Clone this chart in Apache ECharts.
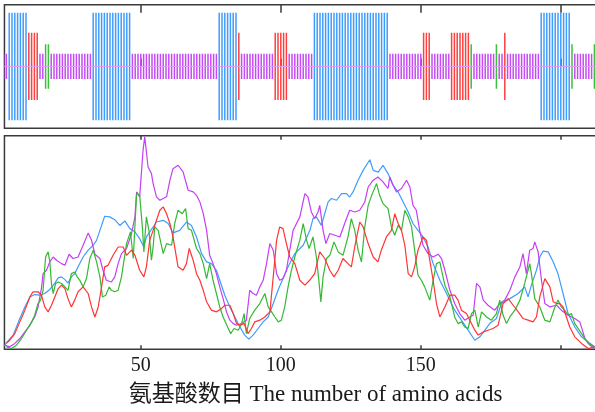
<!DOCTYPE html>
<html>
<head>
<meta charset="utf-8">
<script src="https://cdn.jsdelivr.net/npm/echarts@6/dist/echarts.min.js"></script>
<style>
html,body{margin:0;padding:0;background:#fff;}
#chart{width:595px;height:412px;}
</style>
</head>
<body>
<div id="chart"></div>
<script>
// Secondary structure per residue (H helix, E strand, T turn, C coil), residues 1..212
const structure = ("CC" + "HHHHHHH" + "EEEE" + "CC" + "TT" + "CCCCCCCCCCCCCCC" + "HHHHHHHHHHHHHH" +
  "CCCCCCCCCCCCCCCCCCCCCCCCCCCCCCC" + "HHHHHHH" + "E" + "CCCCCCCCCCCC" + "EEEEE" + "CCCCCCCCC" +
  "HHHHHHHHHHHHHHHHHHHHHHHHHHH" + "CCCCCCCCCCCC" + "EEE" + "CCCCCCC" + "EEEEEEE" + "T" + "CCCCCCCC" +
  "T" + "CC" + "E" + "CCCCCCCCCCCC" + "HHHHHHHHHHH" + "T" + "CCCCCCC" + "T").split('');
const structureClasses = ['H', 'E', 'T', 'C'];
const structureLevels = [0.87, 0.545, 0.36, 0.205];

const xTicks = [50, 100, 150, 200];
const xTickLabels = [50, 100, 150];

const blueLine = [[1.3,1.5],[1.8,2.7],[4.4,6.6],[6.8,14.4],[8.6,19.8],[10.4,24.5],[12.1,25.6],[13.9,25.3],[15.7,26.1],[17.5,28],[19.3,31],[20.5,33.4],[21.7,33.9],[22.9,32.6],[24,31],[25.2,33.9],[26.4,35.4],[27.6,38.6],[29.4,43.2],[31.2,46.4],[33,48.7],[34.2,51],[35.4,55.7],[37.1,62.3],[38.9,62],[40.7,60.7],[42.5,58],[44.3,60.1],[46.1,56.5],[47.9,55],[49.6,51.8],[51.1,47.9],[52,52.6],[55.6,59.6],[58,60.4],[59.8,58.9],[61.5,54.5],[63.9,55.7],[66.3,59.6],[68.1,58],[69.9,52.6],[71.7,44.8],[73.5,40.9],[75.2,40.1],[77,37],[78.2,32.3],[80,25.3],[81.8,19.8],[83.6,15.1],[85.4,10.4],[87.1,6.6],[88.6,4.7],[90.1,6.6],[91.9,9.7],[93.7,12.8],[95.5,15.1],[97.3,21.4],[99,27.6],[100.8,33.1],[102.6,38.6],[105,44.8],[108,48.7],[110.4,55.7],[111.5,61.2],[112.7,62],[114.5,58],[115.7,63.6],[116.9,69],[118.1,70.6],[119.9,69.8],[121.7,72.9],[123.5,72.9],[124.6,71.3],[125.8,73.7],[127.6,79.2],[129.4,83.8],[131.8,88.8],[133,83.8],[134.8,83],[136.5,86.2],[138.3,82.3],[140.1,76.8],[141.9,73.7],[143.7,69],[145.5,64.3],[147.2,58.9],[149,55.7],[150.8,52.6],[152.6,47.9],[154.4,40.1],[156.8,32.3],[159.8,24.5],[162.1,18.3],[164.5,13.6],[166.9,8.9],[169.3,4.2],[171.1,5.8],[172.9,8.9],[174.6,12],[177,14.4],[178.8,21.4],[181.8,23.7],[184.8,26.1],[187.1,29.2],[188.3,24.5],[189.5,30],[191.3,37],[192.5,43.2],[193.7,46],[195.5,45.6],[197.3,40.9],[199,35.4],[200.8,26.1],[202.6,16.7],[205,10.4],[207.4,5.8],[209.8,3.4],[212.1,1.1]];

const violetLine = [[1.4,1.9],[3.2,1.1],[5,2.7],[6.8,5],[8.6,8.1],[10.4,11.2],[12.1,15.1],[13.3,19.8],[14.5,28.4],[15.1,35.4],[16.3,37],[17.5,40.9],[18.7,43.2],[19.9,41.7],[21.7,40.1],[22.9,39.3],[24.4,44.5],[25.8,42.5],[27.6,43.2],[29.4,48.7],[31.2,54.5],[32.4,51.1],[33.6,44.5],[35.4,42.5],[36.5,37],[37.7,32.3],[39.5,31.5],[40.7,33.9],[41.9,40.1],[43.1,44.8],[44.9,47.2],[46.7,54.2],[47.9,62],[48.5,73.7],[49.6,71.4],[50.8,93.2],[51.4,99.5],[52.6,85.4],[53.8,82.3],[54.4,77.6],[55.6,71.4],[56.8,69.8],[58,70.6],[59.2,71.4],[60.4,79.2],[61.5,84.6],[63.3,86.2],[65.1,83.1],[66.9,74.5],[68.7,73.7],[69.9,72.1],[71.1,69],[72.3,63.5],[73.5,55.7],[74.6,44],[75.8,40.1],[77,35.4],[78.2,29.2],[79.4,23.7],[80.6,17.5],[81.8,13.6],[83,12],[84.2,11.2],[86,12],[87.7,13.6],[88.9,27.6],[90.1,26.1],[91.3,25.3],[92.5,29.2],[93.7,32.3],[94.9,40.1],[96.1,49.5],[97.3,46.4],[98.5,35.4],[99.6,32.3],[100.8,33.1],[102,37],[103.2,46.4],[104.4,55.7],[105,56.5],[106.8,62],[108.6,72.9],[109.7,71.4],[110.9,64.3],[112.1,61.2],[113.3,64.3],[113.9,67.4],[115.1,55.7],[116.1,49.5],[117.5,54.2],[119.3,53.4],[121.1,52.6],[122.8,58.9],[124.6,65.1],[126.4,64.3],[128.2,65.1],[130,69],[131.2,76],[133,79.2],[134.7,80.7],[136.5,78.4],[138.3,75.3],[138.9,80.7],[140.1,76.8],[141.3,73.7],[143.1,75.3],[144.9,79.2],[146.1,76],[147.2,67.4],[148.4,65.1],[149.6,55.7],[150.8,48.7],[152.6,44.8],[154.4,43.2],[156.2,44.5],[157.4,42.5],[158.6,37],[160.4,27.6],[162.1,21.4],[163.9,16.7],[165.7,13.6],[167.5,15.1],[168.7,15.9],[169.9,30.8],[171.1,29.2],[172.3,23],[174,20.6],[176.4,18.3],[178.2,21.4],[180,23],[181.8,27.6],[183.6,33.9],[185.4,38.6],[186.5,44.8],[187.7,35.4],[188.9,46.4],[190.1,47.2],[190.7,50.3],[191.9,45.6],[193.1,32.3],[194.3,21.4],[196.1,19.8],[198.5,20.6],[200.2,18.3],[202.6,15.9],[205,14.4],[206.8,12.8],[208.6,5],[210.4,1.9],[212.1,0.3]];

const redLine = [[2,2.7],[3.2,4.2],[5,7.3],[6.8,12.8],[8.6,18.3],[10.4,24.5],[11.5,26.9],[13.3,26.9],[14.5,25.3],[15.7,19.8],[16.9,17.5],[18.1,20.6],[19.3,24.5],[20.5,28.4],[21.7,30],[22.9,28.4],[24,23.7],[25.2,19.8],[26.4,23],[27.6,26.9],[29.4,29.2],[31.2,26.1],[32.4,19.8],[33.6,15.1],[34.8,19.8],[36,29.2],[37.1,38.6],[38.3,39.3],[40.1,44],[41.9,47.9],[43.7,47.9],[44.9,44],[46.7,46.4],[47.9,44],[49.6,37],[51.1,33.9],[52,38.6],[53.2,51.1],[54.4,55.7],[55.6,60.4],[56.8,65.1],[58,66.7],[59.2,63.5],[60.4,58.9],[61.5,52.6],[63.3,38.6],[65.1,37],[66.3,40.1],[67.3,47.2],[68.7,41.7],[69.9,35.4],[71.1,32.3],[72.3,27.6],[73.5,22.2],[75.2,18.3],[77,17.5],[78.8,19],[80,20.6],[81.8,20.6],[83,16.7],[84.2,12],[85.4,11.2],[86.9,12],[88.3,7.3],[89.5,9.7],[90.7,12.8],[92.5,13.6],[94.3,15.1],[96.1,17.5],[97.3,33.9],[98.5,51.1],[99.6,57.3],[100.8,56.5],[102,49.5],[103.2,43.2],[105,40.1],[106.8,32.3],[108.6,30],[110.3,32.3],[112.1,35.4],[113.9,45.6],[115.7,42.5],[117.5,37],[119,33.9],[120.5,37],[122.2,42.5],[124,40.1],[125.2,38.6],[126.4,47.9],[128.2,59.6],[129.4,57.3],[131.2,49.5],[133,43.2],[134.7,40.9],[135.9,46.4],[137.7,52.6],[139.5,55.7],[140.7,63.5],[141.9,58.9],[143.1,55.7],[144.3,48.7],[145.5,35.4],[146.7,33.9],[147.8,38.6],[149,46.4],[150.8,52.6],[152,51.1],[153.2,41.7],[154.4,32.3],[155.6,21.4],[156.8,15.1],[157.4,15.1],[158.6,19.8],[160.4,25.3],[162.1,25.3],[163.3,23],[164.5,18.3],[166.3,16.7],[167.5,13.6],[169.3,8.9],[170.5,6.6],[172.3,8.1],[174,8.9],[175.8,9.7],[177.6,11.2],[179.4,21.4],[181.2,23.7],[183,20.6],[184.8,17.5],[186.5,14.4],[188.3,13.6],[190.1,12.8],[191.3,15.1],[192.5,24.5],[194.3,33.1],[196.1,29.2],[197.3,22.2],[198.5,21.4],[199.6,21.4],[200.8,19.8],[202,15.1],[203.2,10.4],[205,5.8],[207.4,2.7],[209.8,0.3],[212.1,1.1]];

const greenLine = [[2,1.1],[3.8,0.3],[5.6,1.9],[7.4,5],[9.2,8.9],[11,12.8],[12.1,15.9],[13.3,21.4],[14.2,23],[15.1,27.6],[16,43.2],[16.9,45.6],[17.5,40.9],[18.1,30.8],[18.7,26.1],[19.6,30.8],[20.5,31.5],[21.7,30.8],[22.9,29.2],[24,27.6],[25.2,35.4],[26.4,36.2],[27.3,33.9],[28.2,32.3],[29.4,29.2],[30.6,33.1],[31.8,42.5],[33,46.4],[34.2,40.9],[35.4,33.9],[36.3,24.5],[37.5,25.3],[38.7,29.2],[39.5,27.6],[40.7,26.9],[41.9,27.6],[43.1,33.9],[44.9,49.5],[46.3,55],[47.3,42.5],[48.5,72.9],[49.6,72.1],[50.6,56.5],[51.1,45.6],[52,62],[52.9,55.7],[53.8,41.7],[54.4,47.9],[55,57.3],[56.2,55.7],[58,44.8],[59.2,49.5],[61,48.7],[62.1,58.9],[63.3,65.1],[64.8,63.5],[66,65.9],[66.9,56.5],[68.1,55.7],[69.9,47.2],[71.1,44.8],[72.3,40.1],[73.5,33.1],[74.6,40.1],[75.8,32.3],[77,26.1],[78.2,19.8],[79.4,15.1],[81,10.4],[82.1,7.3],[83.3,9.7],[84.8,8.9],[86,12],[86.9,16.7],[87.7,7.3],[88.9,14.4],[90.7,18.3],[92.5,21.4],[94.3,26.1],[95.5,19.8],[96.7,17.5],[97.9,15.1],[99.1,12.8],[100.2,13.6],[101.4,19.8],[102.6,29.2],[103.8,37],[105,43.2],[106.8,51.1],[108,58.9],[109.2,51.1],[110.1,47.2],[111.5,52.6],[112.7,43.2],[113.7,30.8],[114.3,22.2],[115.1,33.9],[116.3,42.5],[117.5,44],[119,50.3],[120.5,45.6],[122.2,44],[124,52.6],[125.2,61.2],[126.4,55.7],[127.6,46.4],[128.8,40.9],[130,57.3],[131.2,67.4],[132.7,72.9],[134.2,77.6],[135.3,72.1],[136.5,68.2],[138.3,65.9],[139.5,57.3],[140.7,53.4],[141.9,58.1],[143.1,55.7],[144.3,65.1],[145.5,62],[146.7,57.3],[147.8,46.4],[149,34.7],[150.2,32.3],[151.4,29.2],[153.2,23],[154.4,32.3],[155.6,40.1],[156.8,40.9],[157.4,37],[158.6,30],[160.4,24.5],[162.1,15.1],[163.3,12],[164.5,12.8],[165.7,10.4],[166.9,9.7],[168.1,16.7],[169.3,18.3],[170.5,10.4],[171.7,17.5],[173.5,15.1],[175.2,13.6],[177,16.7],[178.2,23],[179.4,15.9],[180.6,12],[181.8,15.1],[183.6,18.3],[185.4,23],[187.1,30.8],[188.3,37],[188.9,40.1],[189.5,35.4],[190.7,23.7],[192.5,19.8],[194.3,13.6],[196.1,12.8],[197.9,19.8],[199,23],[200.2,19.8],[201.4,18.3],[202.6,15.9],[203.8,16.7],[205,12],[207.4,7.3],[209.8,2.7],[212.1,1.1]];

const COLORS = { H: '#3f9cff', E: '#ff4040', T: '#3cc03c', C: '#c64af5' };
const LINE_COLORS = { blue: '#3f9cff', red: '#ff3535', green: '#35b835', violet: '#c43ff5' };

const X_MIN = 1.3, X_MAX = 214;
const GRID_LEFT = 0.8 + 2.8 * X_MIN;
const GRID_WIDTH = 2.8 * (X_MAX - X_MIN);
const AXIS_COLOR = '#3a3a3a';

function structureSeries(cls, idx) {
  const data = [];
  structure.forEach((s, i) => { if (s === cls) data.push([i + 1, structureLevels[idx]]); });
  return {
    type: 'custom', xAxisIndex: 0, yAxisIndex: 0, clip: true, silent: true,
    data: data,
    renderItem: function (params, api) {
      const x = api.value(0), h = api.value(1);
      const p1 = api.coord([x, h]);
      const p2 = api.coord([x, -h]);
      return { type: 'rect', shape: { x: p1[0] - 0.75, y: p1[1], width: 1.5, height: p2[1] - p1[1] },
        style: { fill: COLORS[cls] } };
    },
    z: 2
  };
}

function lineSeries(data, color, z) {
  return { type: 'line', xAxisIndex: 2, yAxisIndex: 1, data: data, symbol: 'none', smooth: false,
    lineStyle: { color: color, width: 1.2 }, itemStyle: { color: color }, z: z, silent: true, clip: true };
}

function xAxisCfg(grid, position, tickLen, withLabels) {
  return {
    type: 'value', gridIndex: grid, position: position, min: X_MIN, max: X_MAX,
    axisLine: { show: false },
    splitLine: { show: false },
    axisTick: { show: true, inside: true, length: tickLen, customValues: xTicks,
      lineStyle: { color: AXIS_COLOR, width: 1.5 } },
    axisLabel: withLabels ? { show: true, customValues: xTickLabels, fontSize: 20,
      fontFamily: '"Liberation Serif", "Times New Roman", serif', color: '#1a1a1a', margin: 7 } : { show: false }
  };
}

const chart = echarts.init(document.getElementById('chart'), null, { renderer: 'canvas' });
chart.setOption({
  animation: false,
  backgroundColor: '#ffffff',
  grid: [
    { left: GRID_LEFT, width: GRID_WIDTH, top: 4.7, height: 123.5, show: true, containLabel: false,
      outerBoundsMode: 'none',
      borderColor: AXIS_COLOR, borderWidth: 1.5, backgroundColor: 'transparent' },
    { left: GRID_LEFT, width: GRID_WIDTH, top: 135.8, height: 213.4, show: true, containLabel: false,
      outerBoundsMode: 'none',
      borderColor: AXIS_COLOR, borderWidth: 1.5, backgroundColor: 'transparent' }
  ],
  xAxis: [
    xAxisCfg(0, 'bottom', 8, false),
    xAxisCfg(0, 'top', 8, false),
    xAxisCfg(1, 'bottom', 4, true),
    xAxisCfg(1, 'top', 4, false)
  ],
  yAxis: [
    { type: 'value', gridIndex: 0, min: -1, max: 1, show: false },
    { type: 'value', gridIndex: 1, min: 0, max: 100, show: false }
  ],
  graphic: [{
    type: 'text', x: 315.5, y: 395,
    style: { text: '氨基酸数目 The number of amino acids', textAlign: 'center', textVerticalAlign: 'middle',
      font: '23px "Liberation Serif", "Noto Sans CJK SC", serif', fill: '#1a1a1a' }
  }],
  series: [
    ...structureClasses.map((c, i) => structureSeries(c, i)),
    { type: 'line', xAxisIndex: 0, yAxisIndex: 0, data: [[X_MIN, 0], [X_MAX, 0]], symbol: 'none',
      lineStyle: { color: '#dc9cf2', width: 1 }, z: 3, silent: true },
    lineSeries(blueLine, LINE_COLORS.blue, 3),
    lineSeries(violetLine, LINE_COLORS.violet, 4),
    lineSeries(greenLine, LINE_COLORS.green, 5),
    lineSeries(redLine, LINE_COLORS.red, 6)
  ]
});
</script>
</body>
</html>
